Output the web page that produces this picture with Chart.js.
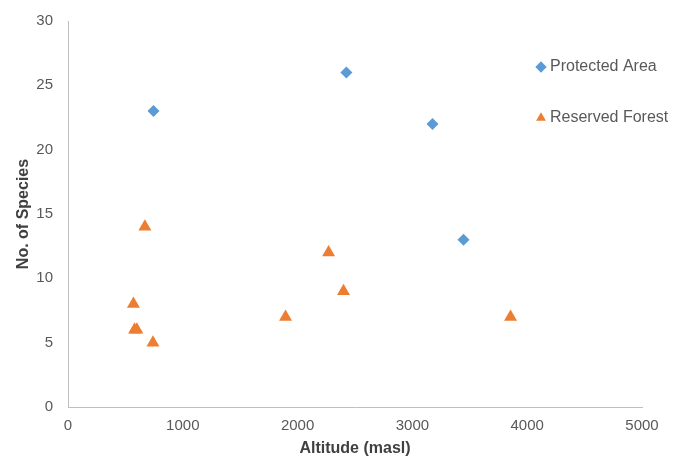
<!DOCTYPE html>
<html>
<head>
<meta charset="utf-8">
<script src="https://cdn.jsdelivr.net/npm/chart.js@4.4.1/dist/chart.umd.min.js"></script>
<style>
  html, body { margin: 0; padding: 0; background: #ffffff; }
  #wrap { width: 678px; height: 458px; }
</style>
</head>
<body>
<div id="wrap"><canvas id="c" width="678" height="458"></canvas></div>
<script>
// Data
const seriesNames = ['Protected Area', 'Reserved Forest'];
const protectedAltitude = [745, 2425, 3175, 3445];
const protectedSpecies  = [23, 26, 22, 13];
const reservedAltitude  = [670, 570, 580, 600, 740, 1895, 2270, 2400, 3855];
const reservedSpecies   = [14, 8, 6, 6, 5, 7, 12, 9, 7];
const xTickValues = [0, 1000, 2000, 3000, 4000, 5000];
const yTickValues = [0, 5, 10, 15, 20, 25, 30];

const toPoints = (xs, ys) => xs.map((x, i) => ({ x: x, y: ys[i] }));

const FONT = "'Liberation Sans', Arial, sans-serif";

const legendPlacer = {
  id: 'legendPlacer',
  beforeDraw(chart) {
    const lg = chart.legend;
    if (lg) {
      lg.left = 505;
      lg.top = 24;
      lg.width = 678 - 505;
      lg.right = 678;
      lg.height = 200;
      lg.bottom = lg.top + 200;
    }
  }
};

new Chart(document.getElementById('c'), {
  type: 'scatter',
  data: {
    datasets: [
      {
        label: seriesNames[0],
        data: toPoints(protectedAltitude, protectedSpecies),
        pointStyle: 'rectRot',
        pointRadius: 6,
        backgroundColor: '#5B9BD5',
        borderColor: '#5B9BD5',
        borderWidth: 0
      },
      {
        label: seriesNames[1],
        data: toPoints(reservedAltitude, reservedSpecies),
        pointStyle: 'triangle',
        pointRadius: 7.5,
        backgroundColor: '#ED7D31',
        borderColor: '#ED7D31',
        borderWidth: 0
      }
    ]
  },
  options: {
    responsive: false,
    animation: false,
    events: [],
    layout: { padding: { left: 14, top: 21, right: 35, bottom: 0 } },
    plugins: {
      tooltip: { enabled: false },
      legend: {
        display: true,
        position: 'right',
        align: 'start',
        maxWidth: 1,
        labels: {
          usePointStyle: true,
          boxWidth: 2,
          boxHeight: 8,
          padding: 35,
          color: '#595959',
          font: { family: FONT, size: 16 }
        }
      }
    },
    scales: {
      x: {
        type: 'linear',
        min: 0,
        max: 5000,
        afterBuildTicks(scale) { scale.ticks = xTickValues.map(v => ({ value: v })); },
        afterFit(scale) { scale.height = 51; },
        grid: { display: true, drawOnChartArea: false, drawTicks: false },
        border: { display: true, color: '#BFBFBF', width: 1 },
        ticks: {
          color: '#595959', padding: 10, maxRotation: 0,
          font: { family: FONT, size: 15 },
          callback: (v) => String(v)
        },
        title: {
          display: true,
          text: 'Altitude (masl)',
          color: '#404040',
          font: { family: FONT, size: 16, weight: 'bold' },
          padding: { top: 4, bottom: 0 }
        }
      },
      y: {
        type: 'linear',
        min: 0,
        max: 30,
        afterBuildTicks(scale) { scale.ticks = yTickValues.map(v => ({ value: v })); },
        afterFit(scale) { scale.width = 54; scale.paddingTop = 0; scale.paddingBottom = 0; },
        grid: { display: true, drawOnChartArea: false, drawTicks: false },
        border: { display: true, color: '#BFBFBF', width: 1 },
        ticks: {
          color: '#595959', padding: 15,
          font: { family: FONT, size: 15 },
          callback: (v) => String(v)
        },
        title: {
          display: true,
          text: 'No. of Species',
          color: '#404040',
          font: { family: FONT, size: 16, weight: 'bold' },
          padding: { top: 0, bottom: 8 }
        }
      }
    }
  },
  plugins: [legendPlacer]
});
</script>
</body>
</html>
